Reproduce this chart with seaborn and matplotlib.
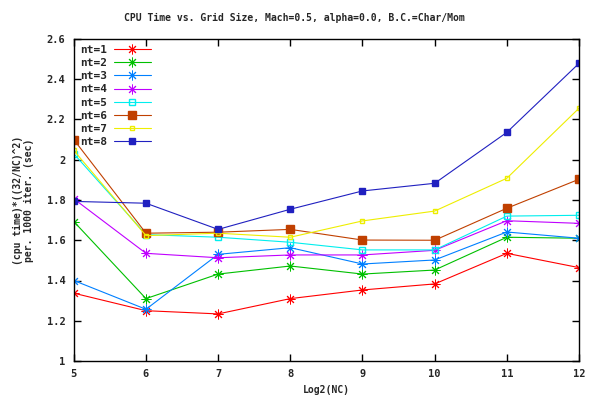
import matplotlib
matplotlib.use("Agg")
import matplotlib.pyplot as plt
import seaborn as sns
import pandas as pd

log2nc = [5, 6, 7, 8, 9, 10, 11, 12]
nt1 = [1.337, 1.25, 1.234, 1.31, 1.353, 1.383, 1.535, 1.464]
nt2 = [1.693, 1.31, 1.432, 1.472, 1.432, 1.452, 1.615, 1.61]
nt3 = [1.40, 1.257, 1.53, 1.563, 1.482, 1.502, 1.641, 1.61]
nt4 = [1.806, 1.535, 1.513, 1.527, 1.527, 1.55, 1.697, 1.684]
nt5 = [2.03, 1.628, 1.615, 1.59, 1.552, 1.552, 1.72, 1.724]
nt6 = [2.10, 1.635, 1.64, 1.654, 1.601, 1.60, 1.759, 1.903]
nt7 = [2.046, 1.623, 1.635, 1.615, 1.696, 1.745, 1.908, 2.256]
nt8 = [1.793, 1.784, 1.654, 1.754, 1.845, 1.883, 2.136, 2.479]

labels = ["nt=1", "nt=2", "nt=3", "nt=4", "nt=5", "nt=6", "nt=7", "nt=8"]
series = [nt1, nt2, nt3, nt4, nt5, nt6, nt7, nt8]
colors = ["#ff0000", "#00c000", "#0080ff", "#c000ff", "#00eeee", "#c04000", "#eeee00", "#2020c0"]
markers = [(8, 2, 0), (8, 2, 0), (8, 2, 0), (8, 2, 0), "s", "s", "s", "s"]
msizes = [7, 7, 7, 7, 5, 5.5, 3.5, 4]
mew = [0.7, 0.7, 0.7, 0.7, 1.0, 1.0, 1.0, 1.0]
filled = [True, True, True, True, False, True, False, True]

sns.set_style("ticks")
plt.rcParams['font.family'] = ['DejaVu Sans Mono']
plt.rcParams['font.weight'] = 'bold'

fig = plt.figure(figsize=(6, 4), dpi=100)
ax = fig.add_axes([0.123, 0.0975, 0.842, 0.805])

for lab, ys, c, m, ms, w, f in zip(labels, series, colors, markers, msizes, mew, filled):
    df = pd.DataFrame({"x": log2nc, "y": ys})
    kw = dict(marker=m, markersize=ms, markeredgecolor=c, markeredgewidth=w)
    kw["markerfacecolor"] = c if f else "none"
    sns.lineplot(data=df, x="x", y="y", ax=ax, color=c, linewidth=0.8,
                 label=lab, estimator=None, sort=False, **kw)

ax.set_xlim(5, 12)
ax.set_ylim(1.0, 2.6)
ax.set_xticks(log2nc)
ax.set_xticklabels([str(v) for v in log2nc])
yt = [1.0, 1.2, 1.4, 1.6, 1.8, 2.0, 2.2, 2.4, 2.6]
ax.set_yticks(yt)
ax.set_yticklabels(["1", "1.2", "1.4", "1.6", "1.8", "2", "2.2", "2.4", "2.6"])
ax.tick_params(direction="in", length=5, width=1, top=True, right=True,
               labelsize=7.5, pad=6, color="black")
for s in ax.spines.values():
    s.set_visible(True)
    s.set_color("black")
    s.set_linewidth(1)

fig.text(0.49, 0.955, "CPU Time vs. Grid Size, Mach=0.5, alpha=0.0, B.C.=Char/Mom",
         fontsize=7, fontweight="bold", ha="center", va="center")
ax.set_xlabel("Log2(NC)", fontsize=7, fontweight="bold", labelpad=4)
ax.set_ylabel("(cpu time)*((32/NC)^2)\nper. 1000 iter. (sec)", fontsize=7,
              fontweight="bold", labelpad=9)

leg = ax.legend(loc="upper left", frameon=False, markerfirst=False,
                handlelength=3.4, handletextpad=0.6,
                labelspacing=0.28, borderaxespad=0.15,
                prop={"family": "DejaVu Sans Mono", "weight": "bold", "size": 8})

fig.savefig("out.png", dpi=100)
